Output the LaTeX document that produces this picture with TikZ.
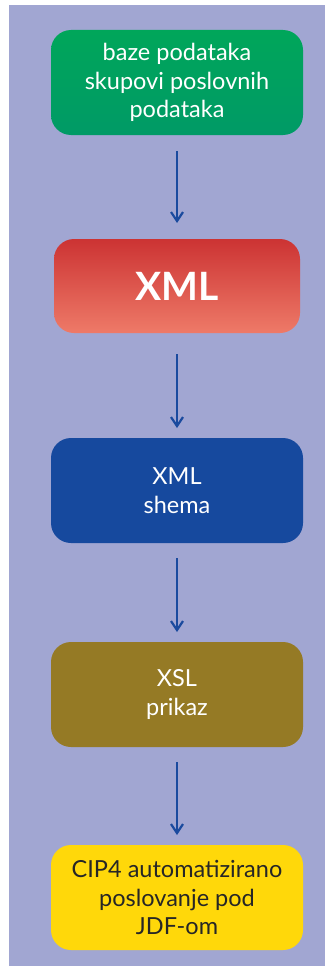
\documentclass[tikz,border=0pt]{standalone}
\usepackage{fontspec}
\setmainfont{Lato}
\usetikzlibrary{arrows.meta}
\definecolor{bglav}{HTML}{A1A6D2}
\definecolor{arrblue}{HTML}{1A4A9E}
\definecolor{boxblue}{HTML}{16499E}
\definecolor{boxolive}{HTML}{957A25}
\definecolor{boxyellow}{HTML}{FFD80A}
\definecolor{greentop}{HTML}{00A65A}
\definecolor{greenbot}{HTML}{009A66}
\definecolor{redtop}{HTML}{CC3333}
\definecolor{redbot}{HTML}{EE7A68}
\tikzset{
  stagebox/.style={rounded corners=20pt, minimum width=252pt, minimum height=105pt,
    align=center, text=white, inner sep=0pt, font=\fontsize{23.5}{28.5}\selectfont},
  flowarrow/.style={draw=arrblue, line width=2.2pt, -{Straight Barb[length=9pt,width=12pt,line width=2.2pt]}}
}
\begin{document}
\begin{tikzpicture}[x=1pt,y=-1pt]
\useasboundingbox (0,0) rectangle (325,966);
\fill[bglav] (9,5) rectangle (325,966);
\node[stagebox, top color=greentop, bottom color=greenbot] (db) at (177,82.5) {baze podataka\\skupovi poslovnih\\podataka};
\node[stagebox, minimum width=246pt, minimum height=94pt, top color=redtop, bottom color=redbot, font=\fontsize{39}{44}\selectfont\bfseries] (xml) at (177,286) {XML};
\node[stagebox, fill=boxblue] (shema) at (177,490.5) {XML\\shema};
\node[stagebox, fill=boxolive] (xsl) at (177,694.5) {XSL\\prikaz};
\node[stagebox, fill=boxyellow, text=black!85] (cip) at (177,897.5) {CIP4 automatizirano\\poslovanje pod\\JDF-om};
\coordinate (a1s) at (177,151); \coordinate (a1e) at (177,223);
\coordinate (a2s) at (177,354); \coordinate (a2e) at (177,428);
\coordinate (a3s) at (177,558); \coordinate (a3e) at (177,632);
\coordinate (a4s) at (177,762); \coordinate (a4e) at (177,835);
\draw[flowarrow] (a1s) -- (a1e);
\draw[flowarrow] (a2s) -- (a2e);
\draw[flowarrow] (a3s) -- (a3e);
\draw[flowarrow] (a4s) -- (a4e);
\end{tikzpicture}
\end{document}
